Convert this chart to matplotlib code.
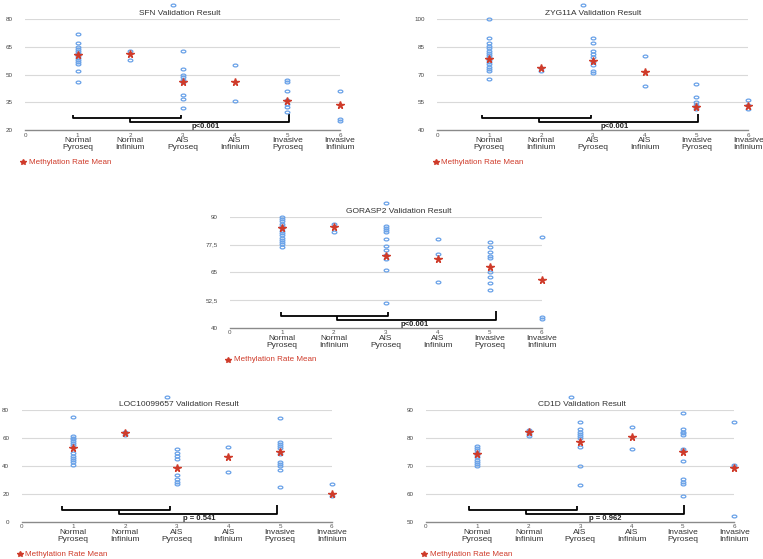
import matplotlib
matplotlib.use("Agg")
import matplotlib.pyplot as plt
import matplotlib.transforms as mtransforms
from matplotlib.path import Path
import numpy as np

plt.rcParams['font.family'] = ['Liberation Sans', 'DejaVu Sans']

categories = ["Normal\nPyroseq", "Normal\nInfinium", "AIS\nPyroseq",
              "AIS\nInfinium", "Invasive\nPyroseq", "Invasive\nInfinium"]

# SFN
sfn_pts = {
    1: [72, 67, 65, 64, 63, 62, 61, 60, 59, 58, 57, 56, 52, 46],
    2: [63, 58],
    3: [63, 52.9, 49.8, 48.6, 47.1, 45.8, 39, 36.8, 31.9],
    4: [55, 35.9],
    5: [47.1, 46, 41.1, 36.3, 34.1, 32.6, 29.9],
    6: [41.1, 26, 24.9],
}
sfn_mean = [60.6, 61, 46, 46.2, 35.9, 33.3]
sfn_yticks = [20, 35, 50, 65, 80]

# ZYG11A
zyg_pts = {
    1: [100, 90, 87, 85.7, 84.3, 83, 81.9, 80.6, 79.4, 77.9, 76.7, 75.6, 74.3, 73.1, 72, 67.8],
    2: [73.4, 72.1],
    3: [90, 87, 83, 81, 79.4, 76.7, 75, 72, 70.9],
    4: [80.1, 64],
    5: [65, 58, 55, 53.6, 52.4, 51.2],
    6: [56.3, 53.6, 51.2],
}
zyg_mean = [78.3, 73.4, 77.6, 71.6, 52.6, 53]
zyg_yticks = [40, 55, 70, 85, 100]

# GORASP2
gor_pts = {
    1: [90, 88.9, 88.2, 87, 85.9, 84.9, 83.8, 82.8, 81.7, 80.7, 79.6, 78.7, 77.7, 76.6],
    2: [87, 83.1],
    3: [86.1, 85.2, 84.1, 83.1, 80.1, 77, 75.1, 72.8, 70.9, 65.9, 51],
    4: [80.1, 73.2, 60.8],
    5: [78.8, 76.3, 74.3, 72.3, 71.3, 65.3, 63, 60.3, 57],
    6: [81.1, 45, 43.9],
}
gor_mean = [85.2, 85.3, 72.5, 71.2, 67.6, 61.7]
gor_yticks = [40, 52.5, 65, 77.5, 90]
gor_ylabels = ["40", "52,5", "65", "77,5", "90"]

# LOC10099657
loc_pts = {
    1: [74.8, 61.6, 60.2, 59, 57.8, 56.1, 54.9, 49, 47.3, 45.8, 44.2, 42.5, 40.6],
    2: [64.5, 62.1],
    3: [51.9, 49, 47, 44.9, 33.5, 30.4, 28.6, 26.8],
    4: [53.7, 35.8],
    5: [74.5, 57.3, 55.4, 54, 52.6, 48.5, 43, 41.5, 40.1, 37, 24.9],
    6: [27, 18.4],
}
loc_mean = [53, 63.3, 38.2, 46.6, 50.1, 20.1]
loc_yticks = [0, 20, 40, 60, 80]

# CD1D
cd1_pts = {
    1: [77, 76.3, 75.6, 74.7, 73.9, 73.1, 72.2, 71.4, 70.7, 69.9],
    2: [82.8, 82, 81.3, 80.7],
    3: [85.8, 83.1, 82.2, 81.4, 80.7, 79.9, 76.9, 70, 63],
    4: [83.8, 75.9],
    5: [88.8, 83.1, 82.3, 81.6, 80.9, 75.9, 75.4, 71.8, 65.2, 64.4, 63.6, 59.1],
    6: [85.8, 70.3, 69.6, 51.9],
}
cd1_mean = [74.2, 82.1, 78.4, 80.2, 75.1, 69.1]
cd1_yticks = [50, 60, 70, 80, 90]

# stray points drawn above each plot
stray_x = [2.82, 2.81, 3.0, 2.81, 2.82]
stray_y = [87.7, 107.8, 96.2, 89.5, 94.8]

p_texts = ["p<0.001", "p<0.001", "p<0.001", "p = 0.541", "p = 0.962"]

BLUE = "#6aa2e8"
RED = "#cf3b2a"

circ = Path.unit_circle()
oval = Path(circ.vertices * np.array([1.0, 0.6]), circ.codes)


def draw_panel(fig, rect, title, title_dx, pts, means, yticks, ylabels,
               stray, ptext, brk, ptx):
    ax = fig.add_axes(rect)
    ax.set_xlim(0, 6)
    ax.set_ylim(yticks[0], yticks[-1])
    for s in ax.spines.values():
        s.set_visible(False)
    ax.set_yticks(yticks)
    ax.set_yticklabels(ylabels, fontsize=4.5, color="#444")
    ax.tick_params(axis="y", length=0, pad=9)
    for yv in yticks[1:]:
        ax.axhline(yv, color="#d9d9d9", lw=0.8, zorder=0)
    ax.axhline(yticks[0], color="#8a8a8a", lw=1.0, zorder=1, clip_on=False)
    ax.set_xticks(range(7))
    ax.set_xticklabels([str(i) for i in range(7)], fontsize=4.5, color="#555")
    ax.tick_params(axis="x", length=0, pad=2)

    mk = dict(linestyle="none", marker=oval, markersize=3.4,
              markerfacecolor="none", markeredgecolor=BLUE,
              markeredgewidth=0.9, clip_on=False, zorder=3)
    for k, vals in pts.items():
        ax.plot([k] * len(vals), vals, **mk)
    ax.plot([stray[0]], [stray[1]], **mk)
    ax.plot(range(1, 7), means, linestyle="none", marker="*", markersize=5.5,
            color=RED, clip_on=False, zorder=4)

    trans = mtransforms.blended_transform_factory(ax.transData, ax.transAxes)
    for i, lab in enumerate(categories):
        ax.text(i + 1, -0.065, lab, transform=trans, ha="center", va="top",
                fontsize=6, color="#333", linespacing=0.95)

    l1, r1, l2, r2 = brk
    top, h1, h2, rtop = 0.14, 0.105, 0.07, 0.148
    kw = dict(color="black", lw=1.3, transform=trans, clip_on=False,
              solid_capstyle="butt")
    ax.plot([l1, l1, r1, r1], [top, h1, h1, top], **kw)
    ax.plot([l2, l2, r2, r2], [h1, h2, h2, rtop], **kw)
    ax.text(ptx, 0.03, ptext, transform=trans, ha="center", va="center",
            fontsize=5.5, fontweight="bold", color="#222")

    ax.text(0.5 + title_dx, 1.038, title, transform=ax.transAxes, ha="center",
            va="baseline", fontsize=6, color="#333")

    ax.plot([-0.005], [-0.29], marker="*", markersize=4, color=RED,
            transform=ax.transAxes, clip_on=False)
    ax.text(0.012, -0.29, "Methylation Rate Mean", transform=ax.transAxes,
            ha="left", va="center", fontsize=5.8, color=RED)
    return ax


fig = plt.figure(figsize=(7.63, 5.59), dpi=100)

draw_panel(fig, [0.0328, 0.7674, 0.4128, 0.198], "SFN Validation Result", -0.01,
           sfn_pts, sfn_mean, sfn_yticks, [str(v) for v in sfn_yticks],
           (stray_x[0], stray_y[0]), p_texts[0], (0.91, 2.97, 2.0, 5.03), 3.45)
draw_panel(fig, [0.5731, 0.7674, 0.4076, 0.198], "ZYG11A Validation Result", 0.0,
           zyg_pts, zyg_mean, zyg_yticks, [str(v) for v in zyg_yticks],
           (stray_x[1], stray_y[1]), p_texts[1], (0.87, 2.96, 1.97, 5.03), 3.43)
draw_panel(fig, [0.3014, 0.4138, 0.4085, 0.198], "GORASP2 Validation Result", 0.04,
           gor_pts, gor_mean, gor_yticks, gor_ylabels,
           (stray_x[2], stray_y[2]), p_texts[2], (0.98, 3.05, 2.07, 5.12), 3.55)
draw_panel(fig, [0.0284, 0.0667, 0.4063, 0.1998], "LOC10099657 Validation Result", 0.007,
           loc_pts, loc_mean, loc_yticks, [str(v) for v in loc_yticks],
           (stray_x[3], stray_y[3]), p_texts[3], (0.79, 2.88, 1.89, 4.95), 3.44)
draw_panel(fig, [0.5583, 0.0667, 0.4041, 0.1998], "CD1D Validation Result", 0.006,
           cd1_pts, cd1_mean, cd1_yticks, [str(v) for v in cd1_yticks],
           (stray_x[4], stray_y[4]), p_texts[4], (0.83, 2.93, 1.94, 5.03), 3.49)

fig.savefig("out.png", dpi=100)
